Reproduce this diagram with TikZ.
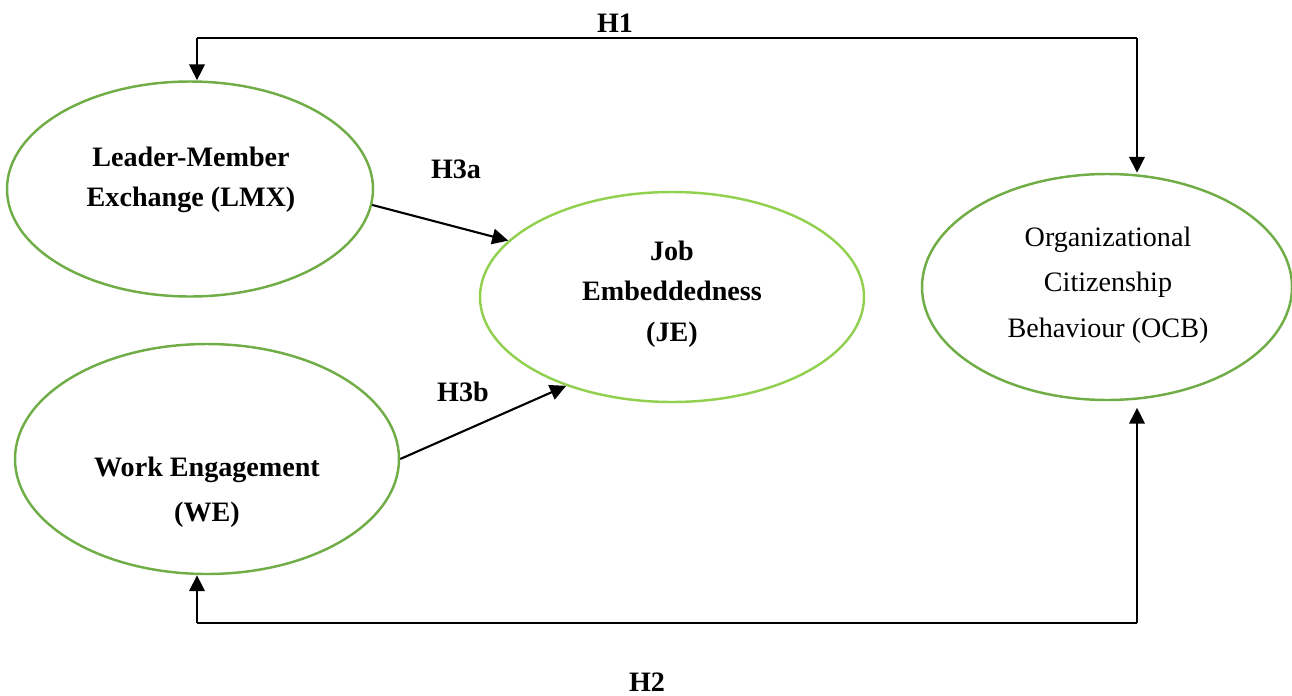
\documentclass[tikz,border=0pt]{standalone}
\usepackage{fontspec}
\setmainfont{Liberation Serif}
\usetikzlibrary{shapes.geometric,arrows.meta,calc}
\definecolor{vargreen}{HTML}{70AD47}
\definecolor{jegreen}{HTML}{92D050}

\begin{document}
\begin{tikzpicture}[x=0.2mm, y=-0.2mm, font=\fontsize{16}{22}\selectfont]
  \tikzset{
    var/.style={ellipse, draw=vargreen, line width=1.4pt, inner sep=0pt},
    txt/.style={align=center, font=\fontsize{16}{22.5}\selectfont\bfseries},
    hyp/.style={font=\fontsize{16}{18}\selectfont\bfseries},
    link/.style={line width=0.75pt},
    arr/.style={line width=1.2pt, -{Triangle[length=3.2mm,width=3.1mm]}}
  }
  \useasboundingbox (0,0) rectangle (1292,695);

  % Constructs
  \node[var, minimum width=73.2mm, minimum height=43mm] (lmx) at (190,189) {};
  \node[var, minimum width=76.8mm, minimum height=46mm] (we) at (207,459) {};
  \node[var, draw=jegreen, minimum width=76.8mm, minimum height=42mm] (je) at (672,297) {};
  \node[var, minimum width=74mm, minimum height=45.2mm] (ocb) at (1107,287) {};

  % Texte
  \node[txt] (lmxtext) at (191,180) {Leader-Member\\Exchange (LMX)};
  \node[txt, font=\fontsize{16}{25.5}\selectfont\bfseries] (wetext) at (207,492) {Work Engagement\\(WE)};
  \node[txt, font=\fontsize{16}{23}\selectfont\bfseries] (jetext) at (672,294) {Job\\Embeddedness\\(JE)};
  \node[align=center, font=\fontsize{16}{26}\selectfont] (ocbtext) at (1108,285)
    {Organizational\\Citizenship\\Behaviour (OCB)};

  % H1
  \coordinate (h1l) at (197,38);
  \coordinate (h1r) at (1137,38);
  \draw[link] (h1l) -- (h1r);
  \draw[arr] (h1l) -- (h1l |- lmx.north);
  \draw[arr] (h1r) -- (h1r |- ocb.north);
  \node[hyp] (h1) at (615,23) {H1};

  % H2
  \coordinate (h2l) at (197,623);
  \coordinate (h2r) at (1137,623);
  \draw[link] (h2l) -- (h2r);
  \draw[arr] (h2l) -- (h2l |- we.south);
  \draw[arr, shorten >=1.3mm] (h2r) -- (h2r |- ocb.south);
  \node[hyp] (h2) at (647,682) {H2};

  % H3a, H3b
  \draw[arr] (lmx.-5) -- (je.161);
  \node[hyp] (h3a) at (456,169) {H3a};
  \draw[arr] (we.0) -- (je.220);
  \node[hyp] (h3b) at (463,392) {H3b};
\end{tikzpicture}
\end{document}
